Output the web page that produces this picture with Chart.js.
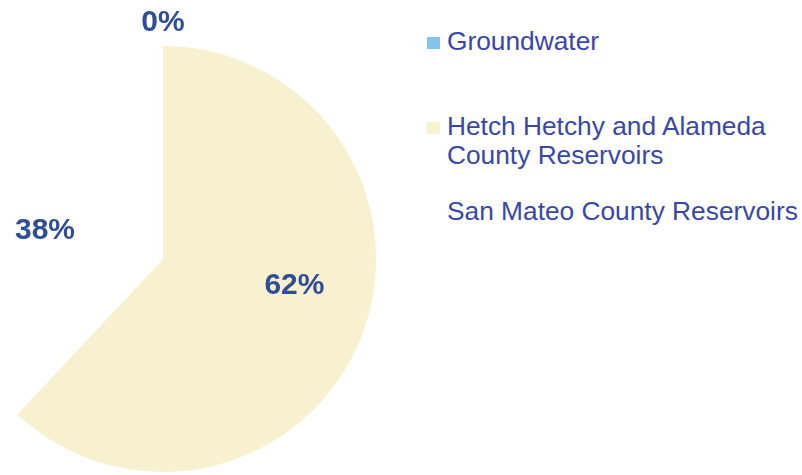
<!DOCTYPE html>
<html>
<head>
<meta charset="utf-8">
<script src="https://cdn.jsdelivr.net/npm/chart.js@4.4.0/dist/chart.umd.min.js"></script>
<style>
    html, body { margin: 0; padding: 0; background: #fff; overflow: hidden; width: 802px; height: 475px; }
    #pie-wrap { position: absolute; left: -50px; top: 0; width: 426px; height: 520px; }
    #legend { position: absolute; left: 427px; top: 0; font-family: "Liberation Sans", Arial, sans-serif;
              font-size: 26.3px; color: #3a47a8; }
    .item { position: absolute; left: 0; white-space: nowrap; line-height: 29px; }
    .box { position: absolute; left: 0; width: 13px; height: 12px; }
    .txt { position: absolute; left: 20px; }
</style>
</head>
<body>
<div id="pie-wrap"><canvas id="pie"></canvas></div>
<div id="legend"></div>
<script>
// Datos del gráfico
const sources = ['Groundwater', 'Hetch Hetchy and Alameda County Reservoirs', 'San Mateo County Reservoirs'];
const legendLines = [['Groundwater'], ['Hetch Hetchy and Alameda', 'County Reservoirs'], ['San Mateo County Reservoirs']];
const shares = [0, 62, 38];

// Estilos
const sliceColors = ['#80c6ec', '#f8f1cf', '#ffffff'];
const legendTops = [27, 112, 197];
// posición de etiquetas: factor del radio y giro (grados) respecto al centro del sector
const labelPlace = [{ r: 1.11, turn: 0 }, { r: 0.63, turn: -10 }, { r: 0.57, turn: -8 }];

// Leyenda en HTML
const legend = document.getElementById('legend');
sources.forEach((name, i) => {
    const item = document.createElement('div');
    item.className = 'item';
    item.style.top = legendTops[i] + 'px';
    const box = document.createElement('div');
    box.className = 'box';
    box.style.top = '10px';
    box.style.background = sliceColors[i];
    const txt = document.createElement('div');
    txt.className = 'txt';
    txt.innerHTML = legendLines[i].join('<br>');
    item.appendChild(box);
    item.appendChild(txt);
    legend.appendChild(item);
});

// Plugin para las etiquetas de porcentaje
const pctLabels = {
    id: 'pctLabels',
    afterDraw(chart) {
        const ctx = chart.ctx;
        const arcs = chart.getDatasetMeta(0).data;
        ctx.save();
        ctx.font = 'bold 30px "Liberation Sans", Arial, sans-serif';
        ctx.fillStyle = '#2f4e97';
        ctx.textAlign = 'center';
        ctx.textBaseline = 'middle';
        arcs.forEach((arc, i) => {
            const p = arc.getProps(['x', 'y', 'startAngle', 'endAngle', 'outerRadius'], true);
            const mid = (p.startAngle + p.endAngle) / 2 + labelPlace[i].turn * Math.PI / 180;
            const rr = p.outerRadius * labelPlace[i].r;
            ctx.fillText(shares[i] + '%', p.x + Math.cos(mid) * rr, p.y + Math.sin(mid) * rr);
        });
        ctx.restore();
    }
};

new Chart(document.getElementById('pie'), {
    type: 'pie',
    data: {
        labels: sources,
        datasets: [{
            data: shares,
            backgroundColor: sliceColors,
            borderWidth: 0
        }]
    },
    options: {
        responsive: true,
        maintainAspectRatio: false,
        animation: false,
        layout: { padding: { top: 46, bottom: 48 } },
        plugins: {
            legend: { display: false },
            tooltip: { enabled: false }
        }
    },
    plugins: [pctLabels]
});
</script>
</body>
</html>
